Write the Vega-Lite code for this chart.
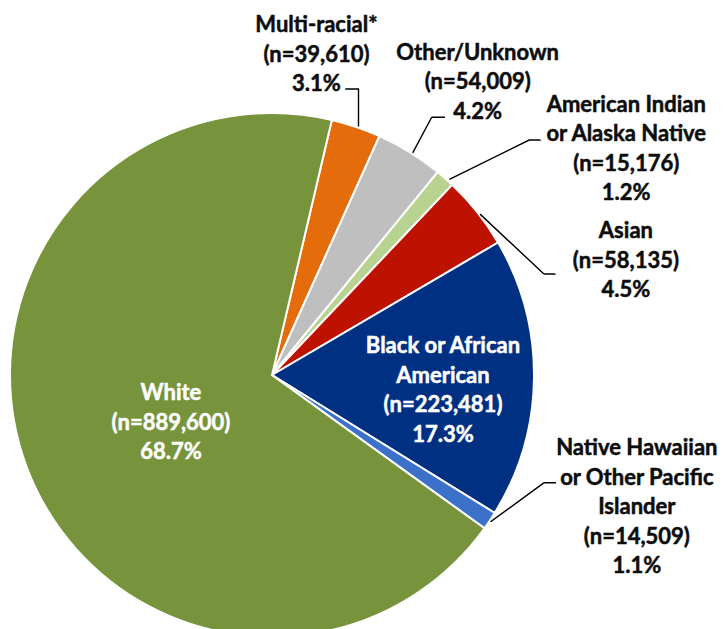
{
  "$schema": "https://vega.github.io/schema/vega-lite/v6.json",
  "width": 524,
  "height": 524,
  "padding": {"left": 10, "top": 113, "right": 189, "bottom": 0},
  "autosize": {"type": "none"},
  "background": "white",
  "config": {
    "view": {"stroke": null},
    "text": {"font": "Lato", "fontWeight": "bold", "fontSize": 22, "lineBreak": "|", "lineHeight": 29.5, "align": "center", "baseline": "middle", "fill": "#0d0d0d", "stroke": "#0d0d0d", "strokeWidth": 0.5},
    "arc": {"stroke": "black", "strokeWidth": 1.4}
  },
  "data": {"values": [
    {"category": "Multi-racial*", "order": 1, "n": 39610, "label": "Multi-racial*|(n=39,610)|3.1%"},
    {"category": "Other/Unknown", "order": 2, "n": 54009, "label": "Other/Unknown|(n=54,009)|4.2%"},
    {"category": "American Indian or Alaska Native", "order": 3, "n": 15176, "label": "American Indian|or Alaska Native|(n=15,176)|1.2%"},
    {"category": "Asian", "order": 4, "n": 58135, "label": "Asian|(n=58,135)|4.5%"},
    {"category": "Black or African American", "order": 5, "n": 223481, "label": "Black or African|American|(n=223,481)|17.3%"},
    {"category": "Native Hawaiian or Other Pacific Islander", "order": 6, "n": 14509, "label": "Native Hawaiian|or Other Pacific|Islander|(n=14,509)|1.1%"},
    {"category": "White", "order": 7, "n": 889600, "label": "White|(n=889,600)|68.7%"}
  ]},
  "transform": [
    {"stack": "n", "groupby": [], "sort": [{"field": "order", "order": "ascending"}], "as": ["s0", "s1"]}
  ],
  "layer": [
    {
      "mark": {"type": "arc", "outerRadius": 262, "stroke": "white", "strokeWidth": 2},
      "encoding": {
        "theta": {"field": "s0", "type": "quantitative", "stack": null, "scale": {"domain": [0, 1294520], "range": [0.23038, 6.51357], "zero": false, "nice": false}},
        "theta2": {"field": "s1"},
        "color": {"field": "category", "type": "nominal", "legend": null,
          "scale": {"domain": ["Multi-racial*", "Other/Unknown", "American Indian or Alaska Native", "Asian", "Black or African American", "Native Hawaiian or Other Pacific Islander", "White"],
                    "range": ["#E46C0A", "#BFBFBF", "#B8D290", "#BE1200", "#003082", "#3B71C9", "#77933C"]}}
      }
    },
    {
      "transform": [{"filter": "datum.order === 1"}],
      "mark": {"type": "arc", "filled": false, "innerRadius": 263.0, "outerRadius": 298.8, "padAngle": 0.4381, "thetaOffset": 0.52709, "theta2Offset": -0.23038, "strokeDash": [0, 50.8, 37.6, 9999]},
      "encoding": {"theta": {"field": "s0", "type": "quantitative", "stack": null}, "theta2": {"field": "s0"}}
    },
    {
      "transform": [{"filter": "datum.order === 1"}],
      "mark": {"type": "arc", "filled": false, "innerRadius": 295.17, "outerRadius": 298.8, "padAngle": 1.4980, "thetaOffset": -1.38894, "theta2Offset": 1.34041, "strokeDash": [0, 52.25, 13.5, 9999]},
      "encoding": {"theta": {"field": "s0", "type": "quantitative", "stack": null}, "theta2": {"field": "s0"}}
    },
    {
      "transform": [{"filter": "datum.order === 2"}],
      "mark": {"type": "arc", "filled": false, "innerRadius": 262.9, "outerRadius": 303.2, "padAngle": 0.09748, "thetaOffset": 0.30377, "theta2Offset": 0.06763, "strokeDash": [0, 32.47, 40.35, 9999]},
      "encoding": {"theta": {"field": "s0", "type": "quantitative", "stack": null}, "theta2": {"field": "s0"}}
    },
    {
      "transform": [{"filter": "datum.order === 2"}],
      "mark": {"type": "arc", "filled": false, "innerRadius": 303.2, "outerRadius": 310.4, "padAngle": 1.2720, "thetaOffset": -0.97067, "theta2Offset": 1.14817, "strokeDash": [0, 49.52, 13.3, 9999]},
      "encoding": {"theta": {"field": "s0", "type": "quantitative", "stack": null}, "theta2": {"field": "s0"}}
    },
    {
      "transform": [{"filter": "datum.order === 3"}],
      "mark": {"type": "arc", "filled": false, "innerRadius": 264.1, "outerRadius": 348.5, "padAngle": 0.4496, "thetaOffset": -0.41391, "theta2Offset": 0.42944, "strokeDash": [0, 96.22, 89.13, 9999]},
      "encoding": {"theta": {"field": "s0", "type": "quantitative", "stack": null}, "theta2": {"field": "s0"}}
    },
    {
      "transform": [{"filter": "datum.order === 3"}],
      "mark": {"type": "arc", "filled": false, "innerRadius": 348.5, "outerRadius": 356.4, "padAngle": 0.9818, "thetaOffset": -0.68130, "theta2Offset": 0.88602, "strokeDash": [0, 45.41, 10.7, 9999]},
      "encoding": {"theta": {"field": "s0", "type": "quantitative", "stack": null}, "theta2": {"field": "s0"}}
    },
    {
      "transform": [{"filter": "datum.order === 4"}],
      "mark": {"type": "arc", "filled": false, "innerRadius": 263.0, "outerRadius": 290.1, "padAngle": 1.4500, "thetaOffset": -1.34818, "theta2Offset": 1.56547, "strokeDash": [0, 201.82, 87.73, 9999]},
      "encoding": {"theta": {"field": "s0", "type": "quantitative", "stack": null}, "theta2": {"field": "s0"}}
    },
    {
      "transform": [{"filter": "datum.order === 4"}],
      "mark": {"type": "arc", "filled": false, "innerRadius": 290.1, "outerRadius": 300.5, "padAngle": 0.4884, "thetaOffset": 0.01405, "theta2Offset": 0.81237, "strokeDash": [0, 33.88, 11, 9999]},
      "encoding": {"theta": {"field": "s0", "type": "quantitative", "stack": null}, "theta2": {"field": "s0"}}
    },
    {
      "transform": [{"filter": "datum.order === 6"}],
      "mark": {"type": "arc", "filled": false, "innerRadius": 263.3, "outerRadius": 292.5, "padAngle": 1.3603, "thetaOffset": 1.34703, "theta2Offset": -1.18614, "strokeDash": [0, 150.91, 66.05, 9999]},
      "encoding": {"theta": {"field": "s0", "type": "quantitative", "stack": null}, "theta2": {"field": "s0"}}
    },
    {
      "transform": [{"filter": "datum.order === 6"}],
      "mark": {"type": "arc", "filled": false, "innerRadius": 292.5, "outerRadius": 303.7, "padAngle": 0.5166, "thetaOffset": 0.28674, "theta2Offset": -0.55451, "strokeDash": [0, 35.30, 12, 9999]},
      "encoding": {"theta": {"field": "s0", "type": "quantitative", "stack": null}, "theta2": {"field": "s0"}}
    },
    {
      "mark": {"type": "text", "radius": 310, "dx": -55, "dy": -56},
      "encoding": {
        "theta": {"field": "n", "type": "quantitative", "stack": true},
        "order": {"field": "order", "type": "quantitative"},
        "detail": {"field": "category", "type": "nominal"},
        "text": {"condition": {"test": "datum.order === 1", "field": "label", "type": "nominal"}, "value": ""}
      }
    },
    {
      "mark": {"type": "text", "radius": 355, "dx": 19, "dy": -20.5},
      "encoding": {
        "theta": {"field": "n", "type": "quantitative", "stack": true},
        "order": {"field": "order", "type": "quantitative"},
        "detail": {"field": "category", "type": "nominal"},
        "text": {"condition": {"test": "datum.order === 2", "field": "label", "type": "nominal"}, "value": ""}
      }
    },
    {
      "mark": {"type": "text", "radius": 400, "dx": 90, "dy": 30},
      "encoding": {
        "theta": {"field": "n", "type": "quantitative", "stack": true},
        "order": {"field": "order", "type": "quantitative"},
        "detail": {"field": "category", "type": "nominal"},
        "text": {"condition": {"test": "datum.order === 3", "field": "label", "type": "nominal"}, "value": ""}
      }
    },
    {
      "mark": {"type": "text", "radius": 360, "dx": 72, "dy": 80},
      "encoding": {
        "theta": {"field": "n", "type": "quantitative", "stack": true},
        "order": {"field": "order", "type": "quantitative"},
        "detail": {"field": "category", "type": "nominal"},
        "text": {"condition": {"test": "datum.order === 4", "field": "label", "type": "nominal"}, "value": ""}
      }
    },
    {
      "mark": {"type": "text", "radius": 171, "dx": 0, "dy": -31, "fill": "white", "stroke": "white"},
      "encoding": {
        "theta": {"field": "n", "type": "quantitative", "stack": true},
        "order": {"field": "order", "type": "quantitative"},
        "detail": {"field": "category", "type": "nominal"},
        "text": {"condition": {"test": "datum.order === 5", "field": "label", "type": "nominal"}, "value": ""}
      }
    },
    {
      "mark": {"type": "text", "radius": 380, "dx": 49, "dy": -138},
      "encoding": {
        "theta": {"field": "n", "type": "quantitative", "stack": true},
        "order": {"field": "order", "type": "quantitative"},
        "detail": {"field": "category", "type": "nominal"},
        "text": {"condition": {"test": "datum.order === 6", "field": "label", "type": "nominal"}, "value": ""}
      }
    },
    {
      "mark": {"type": "text", "radius": 110, "dx": 2, "dy": -20.5, "fill": "white", "stroke": "white"},
      "encoding": {
        "theta": {"field": "n", "type": "quantitative", "stack": true},
        "order": {"field": "order", "type": "quantitative"},
        "detail": {"field": "category", "type": "nominal"},
        "text": {"condition": {"test": "datum.order === 7", "field": "label", "type": "nominal"}, "value": ""}
      }
    }
  ]
}
